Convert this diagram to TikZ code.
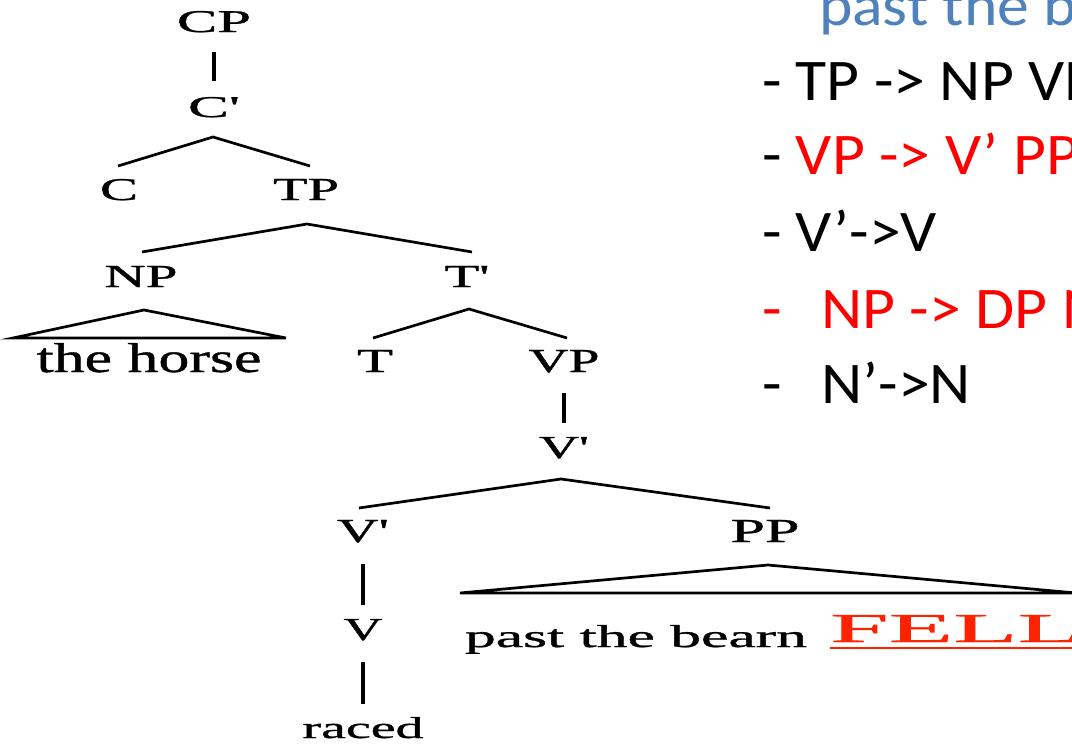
\documentclass[tikz,border=0pt]{standalone}
\usepackage{fontspec}
\usepackage{graphicx}
\setmainfont{Liberation Serif}
\newfontfamily\treefont{Liberation Serif}[FakeBold=0.8]
\newfontfamily\slidefont{Carlito}

\definecolor{slideblue}{RGB}{79,129,189}
\definecolor{rulered}{RGB}{255,0,0}
\definecolor{fellred}{RGB}{255,34,0}

% tree label squeezed into a box of given width and cap height (pt)
\newcommand{\treelabel}[3]{\resizebox{#1pt}{#2pt}{\treefont #3}}
% slide text, slightly widened
\newcommand{\slidetext}[1]{\scalebox{1.08}[1]{\slidefont\fontsize{59pt}{70pt}\selectfont #1}}

\begin{document}
\begin{tikzpicture}[x=1pt,y=-1pt,
  lbl/.style={anchor=base,inner sep=0pt,outer sep=0pt},
  rule/.style={anchor=base west,inner sep=0pt,outer sep=0pt},
  branch/.style={line width=2.7pt},
  unary/.style={line width=4pt},
  roof/.style={line width=2.7pt,line join=miter}]
\useasboundingbox (0,0) rectangle (1072,744);
\clip (0,0) rectangle (1072,744);

% ---- tree labels ----
\node[lbl] (cp)    at (214,32)  {\treelabel{74}{21}{CP}};
\node[lbl] (cbar)  at (214,117) {\treelabel{52}{20}{C\textquotesingle}};
\node[lbl] (c)     at (119,200) {\treelabel{38}{21}{C}};
\node[lbl] (tp)    at (306,200) {\treelabel{66}{21}{TP}};
\node[lbl] (np)    at (141,287) {\treelabel{73}{21}{NP}};
\node[lbl] (tbar)  at (467,287) {\treelabel{45}{21}{T\textquotesingle}};
\node[lbl] (horse) at (149,372) {\treelabel{225}{29}{the horse}};
\node[lbl] (t)     at (375,372) {\treelabel{36}{22}{T}};
\node[lbl] (vp)    at (564,372) {\treelabel{71}{22}{VP}};
\node[lbl] (vbar)  at (564,458) {\treelabel{50}{21}{V\textquotesingle}};
\node[lbl] (vbarl) at (363,542) {\treelabel{52}{22}{V\textquotesingle}};
\node[lbl] (pp)    at (765,542) {\treelabel{69}{22}{PP}};
\node[lbl] (v)     at (363,640) {\treelabel{39}{21}{V}};
\node[lbl] (raced) at (363,738) {\treelabel{121}{21}{raced}};
\node[lbl] (past)  at (636,647) {\treelabel{342}{22}{past the bearn}};
\node[lbl,anchor=base west,text=fellred] (fell) at (830,642)
  {\treelabel{252}{27}{\underline{FELL}}};

% ---- unary branches ----
\draw[unary] ([yshift=-20pt]cp.base)    -- ([yshift=16pt]cbar.north);
\draw[unary] ([yshift=-21pt]vp.base)    -- ([yshift=14pt]vbar.north);
\draw[unary] ([yshift=-22pt]vbarl.base) -- ([yshift=14pt]v.north);
\draw[unary] ([yshift=-22pt]v.base)     -- ([yshift=13pt]raced.north);

% ---- binary branches ----
\draw[branch] ([xshift=-1pt,yshift=13pt]c.north) -- ([xshift=-1pt,yshift=-20pt]cbar.base)
              -- ([xshift=4pt,yshift=13pt]tp.north);
\draw[branch] ([xshift=1pt,yshift=14pt]np.north) -- ([xshift=1pt,yshift=-24pt]tp.base)
              -- ([xshift=5pt,yshift=14pt]tbar.north);
\draw[branch] ([xshift=-2pt,yshift=12pt]t.north) -- ([xshift=2pt,yshift=-22pt]tbar.base)
              -- ([xshift=3pt,yshift=12pt]vp.north);
\draw[branch] ([xshift=-4pt,yshift=12pt]vbarl.north) -- ([xshift=-3pt,yshift=-21pt]vbar.base)
              -- ([xshift=5pt,yshift=12pt]pp.north);

% ---- roofs over unanalysed phrases ----
\coordinate (npL) at (13,338);
\coordinate (npR) at (286,338);
\draw[roof] ([xshift=3pt,yshift=-23pt]np.base) -- (npL) -- (npR) -- cycle;
\coordinate (ppL) at (460,593);
\coordinate (ppR) at (1076,593);
\draw[roof] ([xshift=3pt,yshift=-23pt]pp.base) -- (ppL) -- (ppR) -- cycle;

% ---- phrase-structure rules ----
\node[rule] (r0) at (819,25)  {\slidetext{\color{slideblue}past the b}};
\node[rule] (r1) at (762,100) {\slidetext{- TP -> NP VP}};
\node[rule] (r2) at (762,174) {\slidetext{- \color{rulered}VP -> V’ PP}};
\node[rule] (r3) at (762,251) {\slidetext{- V’->V}};
\node[rule] (r4) at (762,328) {\slidetext{\color{rulered}-\hspace{37pt}NP -> DP N’}};
\node[rule] (r5) at (762,403) {\slidetext{-\hspace{37pt}N’->N}};
\end{tikzpicture}
\end{document}
